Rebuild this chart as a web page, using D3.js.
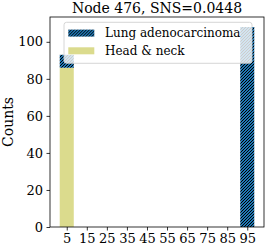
<!DOCTYPE html>
<html><head><meta charset="utf-8">
<script src="https://cdn.jsdelivr.net/npm/d3@7"></script>
<style>html,body{margin:0;padding:0;background:#fff;}svg{display:block;font-family:"DejaVu Serif",serif;}</style>
</head><body>
<script>
const title = "Node 476, SNS=0.0448";
const seriesNames = ["Lung adenocarcinoma", "Head & neck"];
const binCenters = [5, 15, 25, 35, 45, 55, 65, 75, 85, 95];
const headNeckCounts = [86, 0, 0, 0, 0, 0, 0, 0, 0, 0];
const lungCounts = [7, 0, 0, 0, 0, 0, 0, 0, 0, 108];
const yTicks = [0, 20, 40, 60, 80, 100];
const xTickLabels = ["5","15","25","35","45","55","65","75","85","95"];
const colors = {"Lung adenocarcinoma": "#1f77b4", "Head & neck": "#dbdb8d"};

const W = 269, H = 245;
const m = {left: 50, right: 5, top: 17, bottom: 18};
const svg = d3.select("body").append("svg").attr("width", W).attr("height", H);

const defs = svg.append("defs");
const pat = defs.append("pattern").attr("id", "hatch").attr("patternUnits", "userSpaceOnUse")
  .attr("width", 3).attr("height", 3);
pat.append("rect").attr("width", 3).attr("height", 3).attr("fill", colors["Lung adenocarcinoma"]);
pat.append("path").attr("d", "M-1,1 l2,-2 M0,3 l3,-3 M2,4 l2,-2").attr("stroke", "#000").attr("stroke-width", 1);

const binW = 7;
const x = d3.scaleLinear().domain([binCenters[0] - binW/2 - 4.85, binCenters[9] + binW/2 + 4.85]).range([m.left, W - m.right]);
const totals = binCenters.map((c, i) => headNeckCounts[i] + lungCounts[i]);
const y = d3.scaleLinear().domain([0, d3.max(totals) * 1.05]).range([H - m.bottom, m.top]);

const g = svg.append("g");
g.selectAll(".hn").data(binCenters).join("rect")
  .attr("x", d => x(d - binW/2)).attr("width", d => x(d + binW/2) - x(d - binW/2))
  .attr("y", (d, i) => y(headNeckCounts[i])).attr("height", (d, i) => y(0) - y(headNeckCounts[i]))
  .attr("fill", colors["Head & neck"]);
g.selectAll(".lu").data(binCenters).join("rect")
  .attr("x", d => x(d - binW/2)).attr("width", d => x(d + binW/2) - x(d - binW/2))
  .attr("y", (d, i) => y(headNeckCounts[i] + lungCounts[i])).attr("height", (d, i) => y(headNeckCounts[i]) - y(headNeckCounts[i] + lungCounts[i]))
  .attr("fill", "url(#hatch)");

const yAxis = d3.axisLeft(y).tickValues(yTicks).tickSize(3.5).tickPadding(3.5);
const ya = svg.append("g").attr("transform", `translate(${m.left},0)`).call(yAxis);
const xAxis = d3.axisBottom(x).tickValues(binCenters).tickFormat((d, i) => xTickLabels[i]).tickSize(3.5).tickPadding(3.5);
const xa = svg.append("g").attr("transform", `translate(0,${H - m.bottom})`).call(xAxis);
[ya, xa].forEach(a => {
  a.attr("font-family", "DejaVu Serif").attr("font-size", 13);
  a.select(".domain").remove();
  a.selectAll("line").attr("stroke", "#000").attr("stroke-width", 0.8);
  a.selectAll("text").attr("font-family", "DejaVu Serif").attr("font-size", 13).attr("fill", "#000");
});
svg.append("rect").attr("x", m.left).attr("y", m.top).attr("width", W - m.left - m.right).attr("height", H - m.top - m.bottom)
  .attr("fill", "none").attr("stroke", "#000").attr("stroke-width", 0.8);

svg.append("text").attr("x", (m.left + W - m.right) / 2).attr("y", 13).attr("text-anchor", "middle")
  .attr("font-family", "DejaVu Serif").attr("font-size", 14).text(title);
svg.append("text").attr("transform", `translate(13.3,${(m.top + H - m.bottom) / 2}) rotate(-90)`)
  .attr("text-anchor", "middle").attr("font-family", "DejaVu Serif").attr("font-size", 14).text("Counts");

const lg = svg.append("g").attr("transform", "translate(64,22.3)");
lg.append("rect").attr("width", 188).attr("height", 41).attr("rx", 2.5)
  .attr("fill", "#fff").attr("fill-opacity", 0.8).attr("stroke", "#ccc").attr("stroke-width", 0.8);
seriesNames.forEach((s, i) => {
  lg.append("rect").attr("x", 4.3).attr("y", 7.3 + i * 17.7).attr("width", 26).attr("height", 7)
    .attr("fill", i === 0 ? "url(#hatch)" : colors[s]);
  lg.append("text").attr("x", 41).attr("y", 14.6 + i * 17.9).attr("font-family", "DejaVu Serif").attr("font-size", 12).text(s);
});
</script>
</body></html>
